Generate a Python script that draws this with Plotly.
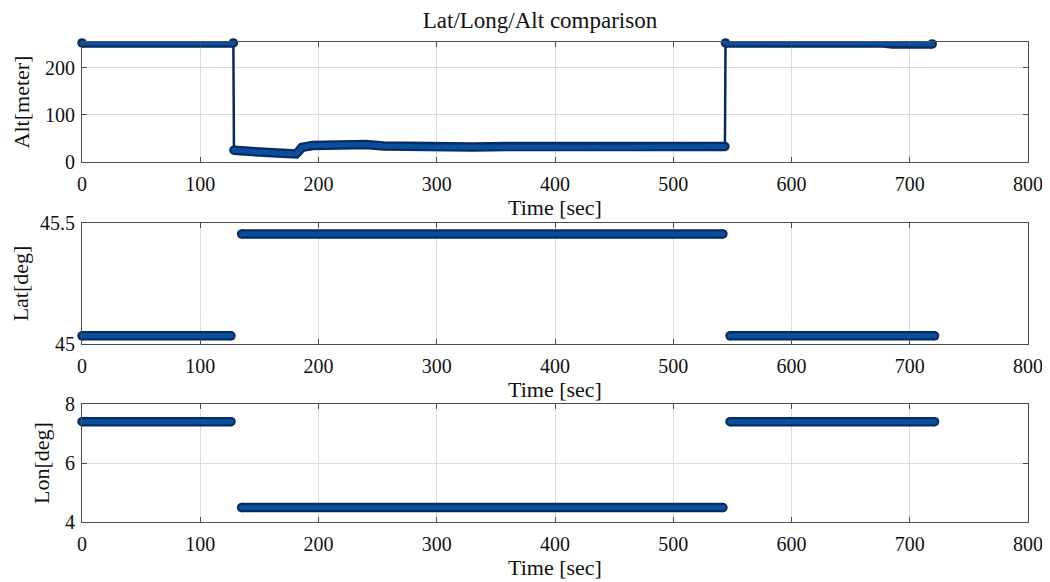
import plotly.graph_objects as go

# ---------------- data ----------------
alt_t = [0, 128, 128.5, 135, 150, 165, 181, 183, 186, 195, 205, 215, 225, 240,
         255, 270, 300, 330, 360, 400, 430, 460, 500, 530, 543.7, 544.2, 560,
         600, 650, 678, 685, 700, 719]
alt_v = [252, 252, 25, 23, 21, 19, 17, 22, 31, 35, 36, 35, 36, 37,
         34, 33, 32, 32, 33, 32, 31, 32, 33, 33, 33, 252, 252.5,
         252.5, 252.5, 252, 250, 250, 250]

lat_t = [0, 126, 135, 542, 548, 721]
lat_v = [45.034, 45.034, 45.455, 45.455, 45.034, 45.034]

lon_t = [0, 126, 135, 542, 548, 721]
lon_v = [7.40, 7.40, 4.49, 4.49, 7.40, 7.40]

x_ticks = [0, 100, 200, 300, 400, 500, 600, 700, 800]
alt_ticks = [0, 100, 200]
lat_ticks = [45, 45.5]
lat_ticklabels = ["45", "45.5"]
lon_ticks = [4, 6, 8]

# ---------------- helpers ----------------
EDGE = "#062c63"
FILL = "#0b4f9c"
THIN = "#08285a"
FONT = "Liberation Serif"
TXT = "#111111"

# the page body adds an 8px offset; size the figure to fit the 1050x582 window
PAGE_OFF = 8
W, H = 1050 - PAGE_OFF, 582 - PAGE_OFF


def break_jumps(t, v, thresh):
    segs, cur_t, cur_v = [], [], []
    for i in range(len(t)):
        if i > 0 and abs(v[i] - v[i - 1]) > thresh:
            segs.append((cur_t, cur_v))
            cur_t, cur_v = [], []
        cur_t.append(t[i])
        cur_v.append(v[i])
    segs.append((cur_t, cur_v))
    return segs


def pair_segments(t, v):
    return [(t[i:i + 2], v[i:i + 2]) for i in range(0, len(t), 2)]


def thick(fig, segs, xa, ya):
    lx, ly, mx, my = [], [], [], []
    for st, sv in segs:
        if lx:
            lx.append(None)
            ly.append(None)
        lx += st
        ly += sv
        mx += [st[0], st[-1]]
        my += [sv[0], sv[-1]]
    for color, w in ((EDGE, 9.5), (FILL, 5)):
        fig.add_trace(go.Scatter(x=lx, y=ly, mode="lines", xaxis=xa, yaxis=ya,
                                 line=dict(color=color, width=w),
                                 cliponaxis=False, showlegend=False, hoverinfo="skip"))
        fig.add_trace(go.Scatter(x=mx, y=my, mode="markers", xaxis=xa, yaxis=ya,
                                 marker=dict(color=color, size=w, line=dict(width=0)),
                                 cliponaxis=False, showlegend=False, hoverinfo="skip"))


fig = go.Figure()

# altitude: thin connecting line + thick marker band
fig.add_trace(go.Scatter(x=alt_t, y=alt_v, mode="lines", xaxis="x", yaxis="y",
                         line=dict(color=THIN, width=2.5), cliponaxis=False,
                         showlegend=False, hoverinfo="skip"))
thick(fig, break_jumps(alt_t, alt_v, 50), "x", "y")
thick(fig, pair_segments(lat_t, lat_v), "x2", "y2")
thick(fig, pair_segments(lon_t, lon_v), "x3", "y3")

axis_common = dict(showline=True, linecolor="#4d4d4d", linewidth=1, mirror="ticks",
                   ticks="inside", ticklen=5, tickcolor="#4d4d4d", showgrid=True,
                   gridcolor="#dcdcdc", gridwidth=1, zeroline=False, automargin=False,
                   tickfont=dict(family=FONT, size=20, color=TXT))

xcommon = dict(axis_common, range=[0, 800], tickvals=x_ticks, ticklabelstandoff=4,
               title=dict(text="Time [sec]", font=dict(family=FONT, size=22, color=TXT),
                          standoff=0))


def ytitle(text):
    return dict(text=text, font=dict(family=FONT, size=22, color=TXT), standoff=9)


ycommon = dict(axis_common, ticklabelstandoff=2)

fig.update_layout(
    width=W, height=H,
    paper_bgcolor="white", plot_bgcolor="white",
    margin=dict(l=82 - PAGE_OFF, r=22, t=42 - PAGE_OFF, b=60, autoexpand=False),
    title=dict(text="Lat/Long/Alt comparison", x=(540 - PAGE_OFF) / W, xref="container",
               y=1 - (20 - PAGE_OFF) / H, yref="container", xanchor="center",
               yanchor="middle", font=dict(family=FONT, size=23, color=TXT)),
    xaxis=dict(xcommon, domain=[0, 1], anchor="y"),
    xaxis2=dict(xcommon, domain=[0, 1], anchor="y2"),
    xaxis3=dict(xcommon, domain=[0, 1], anchor="y3"),
    yaxis=dict(ycommon, domain=[0.75, 1.0], range=[0, 254], tickvals=alt_ticks,
               anchor="x", title=ytitle("Alt[meter]")),
    yaxis2=dict(ycommon, domain=[0.3708, 0.6229], range=[45, 45.5], tickvals=lat_ticks,
                ticktext=lat_ticklabels, anchor="x2", title=ytitle("Lat[deg]")),
    yaxis3=dict(ycommon, domain=[0, 0.2458], range=[4, 8], tickvals=lon_ticks,
                anchor="x3", title=ytitle("Lon[deg]")),
)

fig.write_html("out.html")
